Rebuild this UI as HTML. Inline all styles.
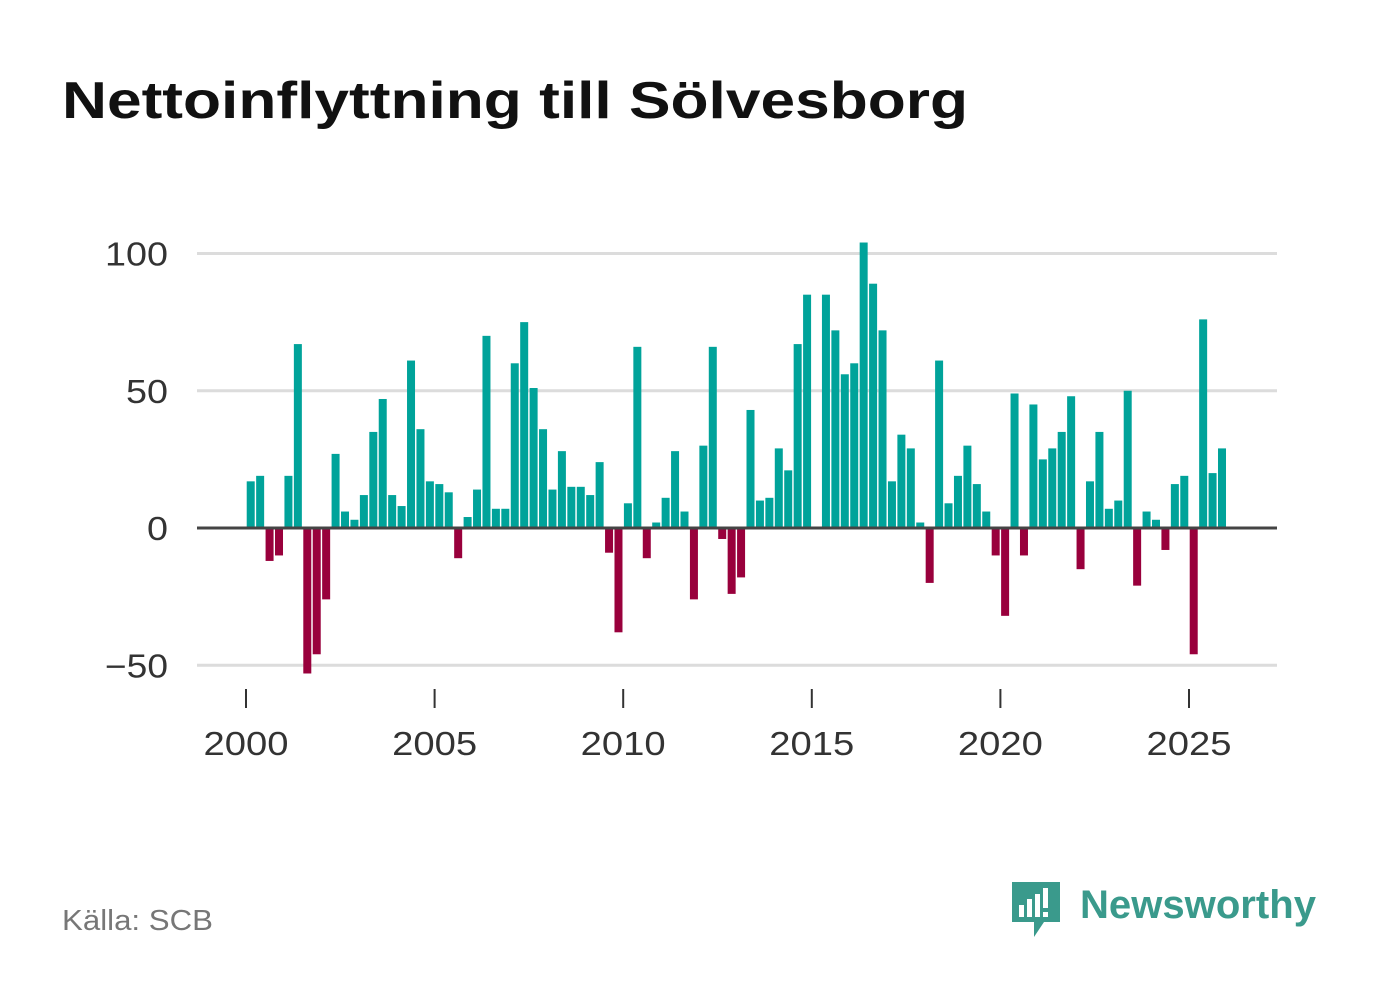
<!DOCTYPE html>
<html><head><meta charset="utf-8"><style>
body{margin:0;width:1382px;height:999px;background:#fff;font-family:"Liberation Sans",sans-serif;overflow:hidden}
</style></head><body>
<svg width="1382" height="999" xmlns="http://www.w3.org/2000/svg">
<text x="62" y="118" font-size="52" font-weight="bold" fill="#111" textLength="906" lengthAdjust="spacingAndGlyphs">Nettoinflyttning till Sölvesborg</text>
<g id="grid"></g><g id="bars"></g><g id="axes"></g>
<text x="62" y="930" font-size="29" fill="#777" textLength="151" lengthAdjust="spacingAndGlyphs">Källa: SCB</text>
<g>
<path d="M1012 882h48v40h-16l-10 15v-15h-22z" fill="#3a9a8c"/>
<rect x="1019" y="905" width="5" height="12" fill="#fff"/><rect x="1027" y="899" width="5" height="18" fill="#fff"/><rect x="1035" y="894" width="5" height="23" fill="#fff"/><rect x="1043" y="888" width="5" height="20" fill="#fff"/><rect x="1043" y="912" width="5" height="5" fill="#fff"/>
<text x="1080" y="918" font-size="40" font-weight="bold" fill="#3a9a8c" textLength="236" lengthAdjust="spacingAndGlyphs">Newsworthy</text>
</g>
</svg>
<script>
const quarters=[];for(let y=2000;y<=2025;y++)for(let q=1;q<=4;q++)quarters.push(y+(q-0.5)/4);
const values=[17,19,-12,-10, 19,67,-53,-46, -26,27,6,3, 12,35,47,12, 8,61,36,17, 16,13,-11,4, 14,70,7,7, 60,75,51,36, 14,28,15,15, 12,24,-9,-38, 9,66,-11,2, 11,28,6,-26, 30,66,-4,-24, -18,43,10,11, 29,21,67,85, 0,85,72,56, 60,104,89,72, 17,34,29,2, -20,61,9,19, 30,16,6,-10, -32,49,-10,45, 25,29,35,48, -15,17,35,7, 10,50,-21,6, 3,-8,16,19, -46,76,20,29];
const yTicks=[100,50,0,-50];const yTickLabels=["100","50","0","\u221250"];
const xTicks=[2000,2005,2010,2015,2020,2025];
const NS="http://www.w3.org/2000/svg";
const xs=v=>246+(v-2000)*37.72;const ys=v=>528-v*2.745;
function mk(t,a,p){const e=document.createElementNS(NS,t);for(const k in a)e.setAttribute(k,a[k]);p.appendChild(e);return e;}
const g=document.getElementById('grid'),b=document.getElementById('bars'),ax=document.getElementById('axes');
yTicks.forEach((t,i)=>{if(t!==0){const l=mk('line',{x1:197,x2:1277,y1:ys(t),y2:ys(t),stroke:'#dcdcdc','stroke-width':3},g);

}
const lab=yTickLabels[i];
const tx=mk('text',{x:168,y:ys(t)+12,'text-anchor':'end','font-size':33,fill:'#333',textLength:lab.length*21,lengthAdjust:'spacingAndGlyphs'},ax);tx.textContent=lab;

});
values.forEach((v,i)=>{const x=xs(quarters[i]);const r=mk('rect',{x:x-4,width:8,y:Math.min(ys(v),ys(0)),height:Math.abs(ys(v)-ys(0)),fill:v>=0?'#00a39a':'#99003c'},b);

});
const z=mk('line',{x1:197,x2:1277,y1:ys(0),y2:ys(0),stroke:'#444','stroke-width':3},ax);


xTicks.forEach(t=>{const l=mk('line',{x1:xs(t),x2:xs(t),y1:689,y2:708,stroke:'#333','stroke-width':2},ax);


const tx=mk('text',{x:xs(t),y:755,'text-anchor':'middle','font-size':33,fill:'#333',textLength:85,lengthAdjust:'spacingAndGlyphs'},ax);tx.textContent=t;

});
</script>
</body></html>
